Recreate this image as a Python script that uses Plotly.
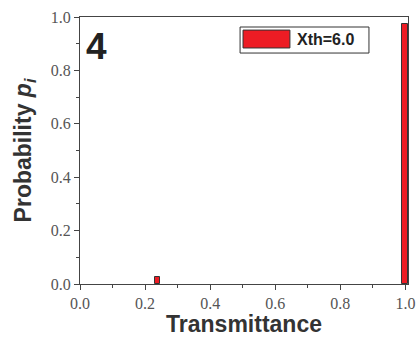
import plotly.graph_objects as go

# Data
transmittance = [0.238, 1.0]
probability = [0.025, 0.974]
series_name = "Xth=6.0"
panel_label = "4"
tick_vals = [0.0, 0.2, 0.4, 0.6, 0.8, 1.0]
tick_text = ["0.0", "0.2", "0.4", "0.6", "0.8", "1.0"]

RED = "#ED1C24"
DARK = "#333333"

fig = go.Figure()
fig.add_trace(go.Bar(
    x=transmittance, y=probability, width=0.018,
    marker=dict(color=RED, line=dict(color=DARK, width=1)),
    name=series_name, showlegend=False,
))

axis_common = dict(
    showgrid=False, zeroline=False, showline=True, linecolor="#444444", linewidth=1.3,
    mirror=True, ticks="outside", ticklen=5, tickcolor="#444444",
    tickvals=tick_vals, ticktext=tick_text, automargin=False,
    tickfont=dict(family="Liberation Serif", size=16, color="#555555"),
    minor=dict(ticks="outside", ticklen=3, dtick=0.1, tickcolor="#444444", showgrid=False),
)

fig.update_xaxes(range=[0, 1.008], **axis_common,
                 title=dict(text="<b>Transmittance</b>", standoff=9,
                            font=dict(family="Liberation Sans", size=23, color="#333333")))
fig.update_yaxes(range=[0, 1.0], **axis_common,
                 title=dict(text="<b>Probability <i>p<sub>i</sub></i></b>", standoff=12,
                            font=dict(family="Liberation Sans", size=23, color="#333333")))

# Legend box drawn manually
fig.add_shape(type="rect", xref="paper", yref="paper", x0=0.488, x1=0.881, y0=0.865, y1=0.9625,
              line=dict(color=DARK, width=1), fillcolor="white")
fig.add_shape(type="rect", xref="paper", yref="paper", x0=0.497, x1=0.640, y0=0.884, y1=0.951,
              line=dict(color=DARK, width=1), fillcolor=RED)
fig.add_annotation(xref="paper", yref="paper", x=0.656, y=0.914, xanchor="left", yanchor="middle",
                   text="<b>" + series_name + "</b>", showarrow=False,
                   font=dict(family="Liberation Sans", size=16, color="#222222"))
fig.add_annotation(xref="paper", yref="paper", x=0.012, y=0.975, xanchor="left", yanchor="top",
                   text="<b>" + panel_label + "</b>", showarrow=False,
                   font=dict(family="Liberation Sans", size=37, color="#222222"))

fig.update_layout(
    width=416, height=337,
    margin=dict(l=80, r=8, t=17, b=53),
    plot_bgcolor="white", paper_bgcolor="white",
    bargap=0,
)

fig.write_html("out.html")
